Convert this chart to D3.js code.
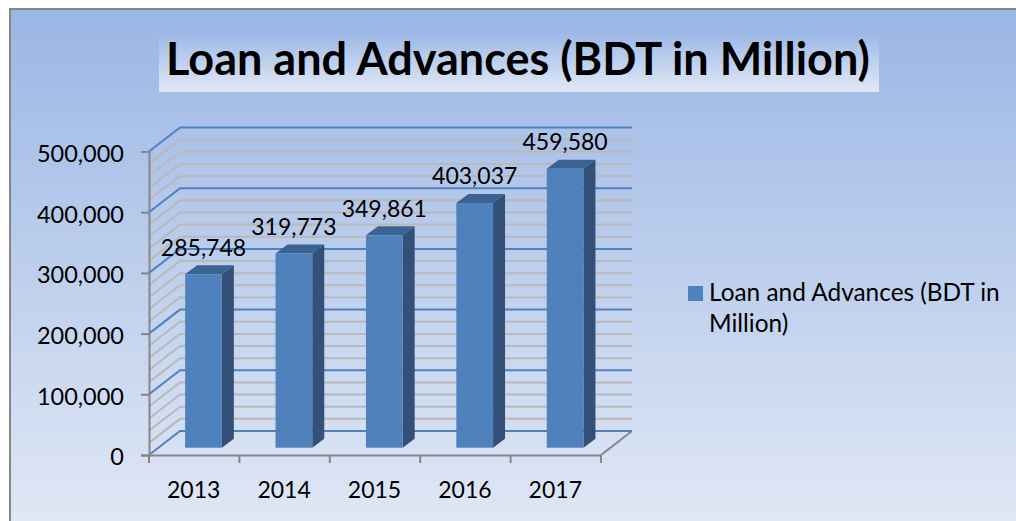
<!DOCTYPE html>
<html>
<head>
<meta charset="utf-8">
<script src="https://cdn.jsdelivr.net/npm/d3@7"></script>
<style>
  html, body { margin: 0; padding: 0; background: #fff; }
  svg { display: block; }
  text { font-family: Lato, "Open Sans", sans-serif; fill: #000; }
</style>
</head>
<body>
<script>
const years = ["2013", "2014", "2015", "2016", "2017"];
const loans = [285748, 319773, 349861, 403037, 459580];
const majorTicks = [0, 100000, 200000, 300000, 400000, 500000];
const minorTicks = d3.range(0, 500001, 20000);
const seriesName = ["Loan and Advances (BDT in", "Million)"];
const chartTitle = "Loan and Advances (BDT in Million)";

// setup basic requirements
const w = 1016;
const h = 521;
const depthX = 31;
const depthY = -24;
const barDepthX = 12;
const barDepthY = -9;
const barShiftX = 9.3;
const barShiftY = -7.3;

const svg = d3.select("body")
    .append("svg")
    .attr("width", w)
    .attr("height", h);

const defs = svg.append("defs");
const bg = defs.append("linearGradient")
    .attr("id", "bg")
    .attr("x1", 0).attr("y1", 0).attr("x2", 0).attr("y2", 1);
bg.append("stop").attr("offset", "0%").attr("stop-color", "#9ab6e5");
bg.append("stop").attr("offset", "100%").attr("stop-color", "#e1e8f5");

const xScale = d3.scaleBand()
    .domain(years)
    .range([149, 601])
    .paddingInner(0.594)
    .paddingOuter(0.297);

const yScale = d3.scaleLinear()
    .domain([0, 500000])
    .range([455, 151.5]);

// chart area, right and bottom edges run off the picture
svg.append("rect")
    .attr("x", 10).attr("y", 9)
    .attr("width", w).attr("height", h)
    .attr("fill", "url(#bg)")
    .attr("stroke", "#868686")
    .attr("stroke-width", 2);

// title
svg.append("rect")
    .attr("x", 159).attr("y", 30)
    .attr("width", 720).attr("height", 62)
    .attr("fill", "url(#bg)");

svg.append("text")
    .attr("x", 518).attr("y", 75)
    .attr("text-anchor", "middle")
    .attr("font-size", 45)
    .attr("font-weight", 700)
    .text(chartTitle);

// side wall and back wall gridlines
const grid = svg.append("g").attr("fill", "none");

grid.selectAll("path.minor")
    .data(minorTicks.filter(d => d % 100000 !== 0))
    .join("path")
    .attr("class", "minor")
    .attr("d", d => {
        const y = yScale(d);
        return "M149," + y + "L" + (149 + depthX) + "," + (y + depthY) + "H" + (601 + depthX);
    })
    .attr("stroke", "#b9b9b9")
    .attr("stroke-width", 2);

grid.selectAll("path.major")
    .data(majorTicks)
    .join("path")
    .attr("class", "major")
    .attr("d", d => {
        const y = yScale(d);
        return "M149," + y + "L" + (149 + depthX) + "," + (y + depthY) + "H" + (601 + depthX);
    })
    .attr("stroke", "#4f81bd")
    .attr("stroke-width", 2);

// floor edge
svg.append("path")
    .attr("d", "M601,455L" + (601 + depthX) + "," + (455 + depthY))
    .attr("fill", "none")
    .attr("stroke", "#868686")
    .attr("stroke-width", 2);

// bars
const bars = svg.append("g")
    .selectAll("g")
    .data(years.map((d, i) => ({ year: d, value: loans[i] })))
    .join("g")
    .attr("transform", "translate(" + barShiftX + "," + barShiftY + ")");

bars.append("path")
    .attr("fill", "#3a6391")
    .attr("d", d => {
        const x0 = xScale(d.year), x1 = x0 + xScale.bandwidth(), y = yScale(d.value);
        return "M" + x0 + "," + y + "L" + (x0 + barDepthX) + "," + (y + barDepthY) +
            "H" + (x1 + barDepthX) + "L" + x1 + "," + y + "Z";
    });

bars.append("path")
    .attr("fill", "#325078")
    .attr("d", d => {
        const x1 = xScale(d.year) + xScale.bandwidth(), y = yScale(d.value);
        return "M" + x1 + "," + y + "L" + (x1 + barDepthX) + "," + (y + barDepthY) +
            "V" + (yScale(0) + barDepthY) + "L" + x1 + "," + yScale(0) + "Z";
    });

bars.append("rect")
    .attr("x", d => xScale(d.year))
    .attr("y", d => yScale(d.value))
    .attr("width", xScale.bandwidth())
    .attr("height", d => yScale(0) - yScale(d.value))
    .attr("fill", "#4f81bd");

// value labels
svg.append("g")
    .selectAll("text")
    .data(loans)
    .join("text")
    .attr("x", (d, i) => xScale(years[i]) + xScale.bandwidth() / 2 + barShiftX)
    .attr("y", d => yScale(d) - 26)
    .attr("text-anchor", "middle")
    .attr("font-size", 23)
    .text(d => d3.format(",")(d));

// axes
const xAxis = d3.axisBottom(xScale).tickSize(0).tickPadding(0);
const yAxis = d3.axisLeft(yScale)
    .tickValues(majorTicks)
    .tickFormat(d3.format(","))
    .tickSize(8)
    .tickPadding(17);

const gx = svg.append("g")
    .attr("transform", "translate(0,455)")
    .call(xAxis);
gx.selectAll(".tick line").remove();
gx.select(".domain").attr("stroke", "#868686").attr("stroke-width", 2);
gx.selectAll(".tick text")
    .attr("dy", null)
    .attr("y", 43)
    .attr("dx", -0.5)
    .attr("font-size", 23);

// category separators on the x axis
gx.selectAll("line.sep")
    .data(d3.range(years.length + 1))
    .join("line")
    .attr("class", "sep")
    .attr("x1", i => i === years.length ? 601 : xScale(years[i]) - xScale.step() * 0.297)
    .attr("x2", i => i === years.length ? 601 : xScale(years[i]) - xScale.step() * 0.297)
    .attr("y1", 0).attr("y2", 8)
    .attr("stroke", "#868686")
    .attr("stroke-width", 2);

const gy = svg.append("g")
    .attr("transform", "translate(149,0)")
    .call(yAxis);
gy.select(".domain").attr("stroke", "#868686").attr("stroke-width", 2);
gy.selectAll(".tick line").attr("stroke", "#868686").attr("stroke-width", 2);
gy.selectAll(".tick text")
    .attr("dy", "0.42em")
    .attr("font-size", 23.5);

// legend
const legend = svg.append("g");
legend.append("rect")
    .attr("x", 688).attr("y", 286)
    .attr("width", 15).attr("height", 15)
    .attr("fill", "#4f81bd");
legend.selectAll("text")
    .data(seriesName)
    .join("text")
    .attr("x", 709)
    .attr("y", (d, i) => 301 + i * 31)
    .attr("font-size", 24.4)
    .text(d => d);
</script>
</body>
</html>
